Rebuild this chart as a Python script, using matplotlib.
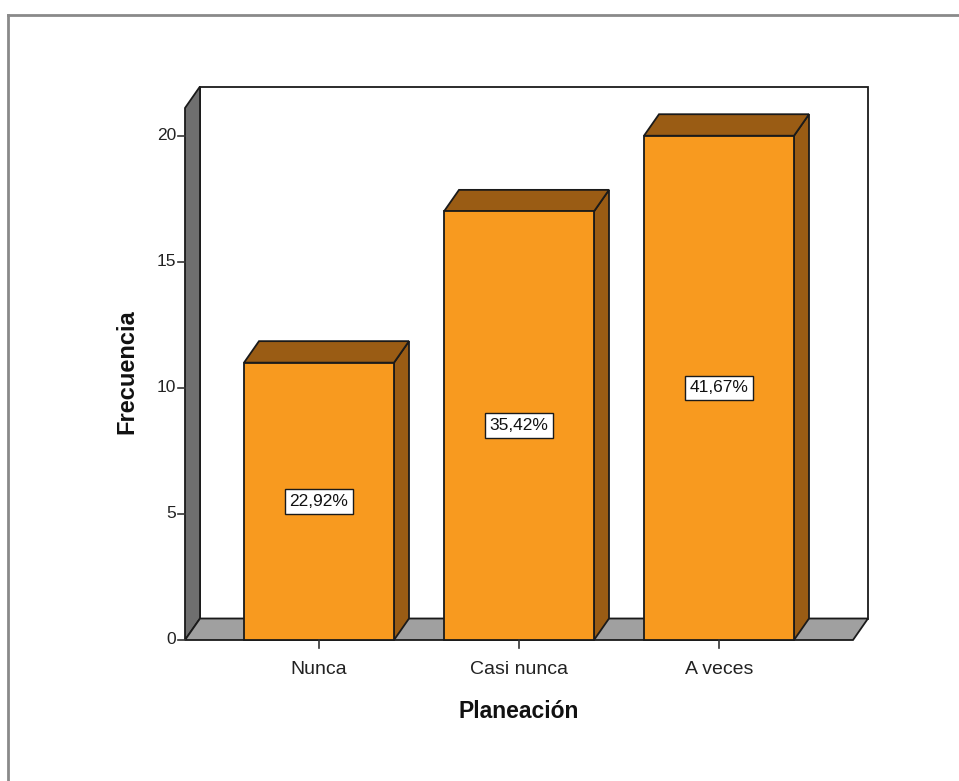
import matplotlib
matplotlib.use("Agg")
import matplotlib.pyplot as plt
from matplotlib.patches import Polygon, Rectangle
from matplotlib.lines import Line2D

# data
categorias = ["Nunca", "Casi nunca", "A veces"]
frecuencias = [11, 17, 20]
y_ticks = [0, 5, 10, 15, 20]

total = sum(frecuencias)
porcentajes = [f / total * 100 for f in frecuencias]

plt.rcParams['font.family'] = ['Liberation Sans', 'DejaVu Sans']

W, H = 959, 781
fig = plt.figure(figsize=(W / 100, H / 100), dpi=100)
fig.patch.set_facecolor("white")

# outer frame (top and left only visible)
fig.add_artist(Line2D([8 / W, 1], [1 - 15 / H, 1 - 15 / H], color="#8a8a8a", lw=2))
fig.add_artist(Line2D([8 / W, 8 / W], [0, 1 - 15 / H], color="#8a8a8a", lw=2))

# axes = front plane of the 3d box
ax = fig.add_axes([185 / W, (H - 640) / H, (853 - 185) / W, (640 - 108) / H])
x0, x1 = -0.67, 2.67
ymax = 21.1
ax.set_xlim(x0, x1)
ax.set_ylim(0, ymax)
ax.axis("off")

px_x = (x1 - x0) / (853 - 185)
px_y = ymax / (640 - 108)
dx = 15 * px_x
dy = 21.5 * px_y

edge = "#1a1a1a"
lw = 1.3

# back wall
ax.add_patch(Rectangle((x0 + dx, dy), x1 - x0, ymax, facecolor="white",
                       edgecolor=edge, lw=lw, clip_on=False, zorder=1))
# left wall
ax.add_patch(Polygon([(x0, 0), (x0, ymax), (x0 + dx, ymax + dy), (x0 + dx, dy)],
                     closed=True, facecolor="#6f6f6f", edgecolor=edge, lw=lw,
                     clip_on=False, zorder=2))
# floor
ax.add_patch(Polygon([(x0, 0), (x1, 0), (x1 + dx, dy), (x0 + dx, dy)],
                     closed=True, facecolor="#a0a0a0", edgecolor=edge, lw=lw,
                     clip_on=False, zorder=2))

bw = 0.75
front = "#f89a1f"
dark = "#9a5c14"
for i, (f, p) in enumerate(zip(frecuencias, porcentajes)):
    l, r = i - bw / 2, i + bw / 2
    # side
    ax.add_patch(Polygon([(r, 0), (r + dx, dy), (r + dx, f + dy), (r, f)],
                         closed=True, facecolor=dark, edgecolor=edge, lw=lw,
                         clip_on=False, zorder=3))
    # top
    ax.add_patch(Polygon([(l, f), (r, f), (r + dx, f + dy), (l + dx, f + dy)],
                         closed=True, facecolor=dark, edgecolor=edge, lw=lw,
                         clip_on=False, zorder=3))
    # front
    ax.add_patch(Rectangle((l, 0), bw, f, facecolor=front, edgecolor=edge,
                           lw=lw, clip_on=False, zorder=4))
    ax.text(i, f / 2, ("%.2f%%" % p).replace(".", ","), ha="center", va="center",
            fontsize=12.5, color="#111111", zorder=5,
            bbox=dict(boxstyle="square,pad=0.28", facecolor="white",
                      edgecolor=edge, lw=1))

# y ticks
tick_len = 7 * px_x
for t in y_ticks:
    ax.plot([x0 - tick_len, x0], [t, t], color="#333333", lw=1.2, clip_on=False, zorder=5)
    ax.text(x0 - tick_len - 2 * px_x, t, str(t), ha="right", va="center",
            fontsize=12.5, color="#222222")

# x ticks
for i, c in enumerate(categorias):
    ax.plot([i, i], [0, -8 * px_y], color="#333333", lw=1.2, clip_on=False, zorder=5)
    ax.text(i, -30 * px_y, c, ha="center", va="center", fontsize=14,
            color="#222222")

ax.text(1, -72 * px_y, "Planeación", ha="center", va="center", fontsize=16.5,
        fontweight="bold", color="#111111")
fig.text(127 / W, 1 - 372 / H, "Frecuencia", rotation=90, ha="center",
         va="center", fontsize=17, fontweight="bold", color="#111111")

fig.savefig("out.png", dpi=100)
